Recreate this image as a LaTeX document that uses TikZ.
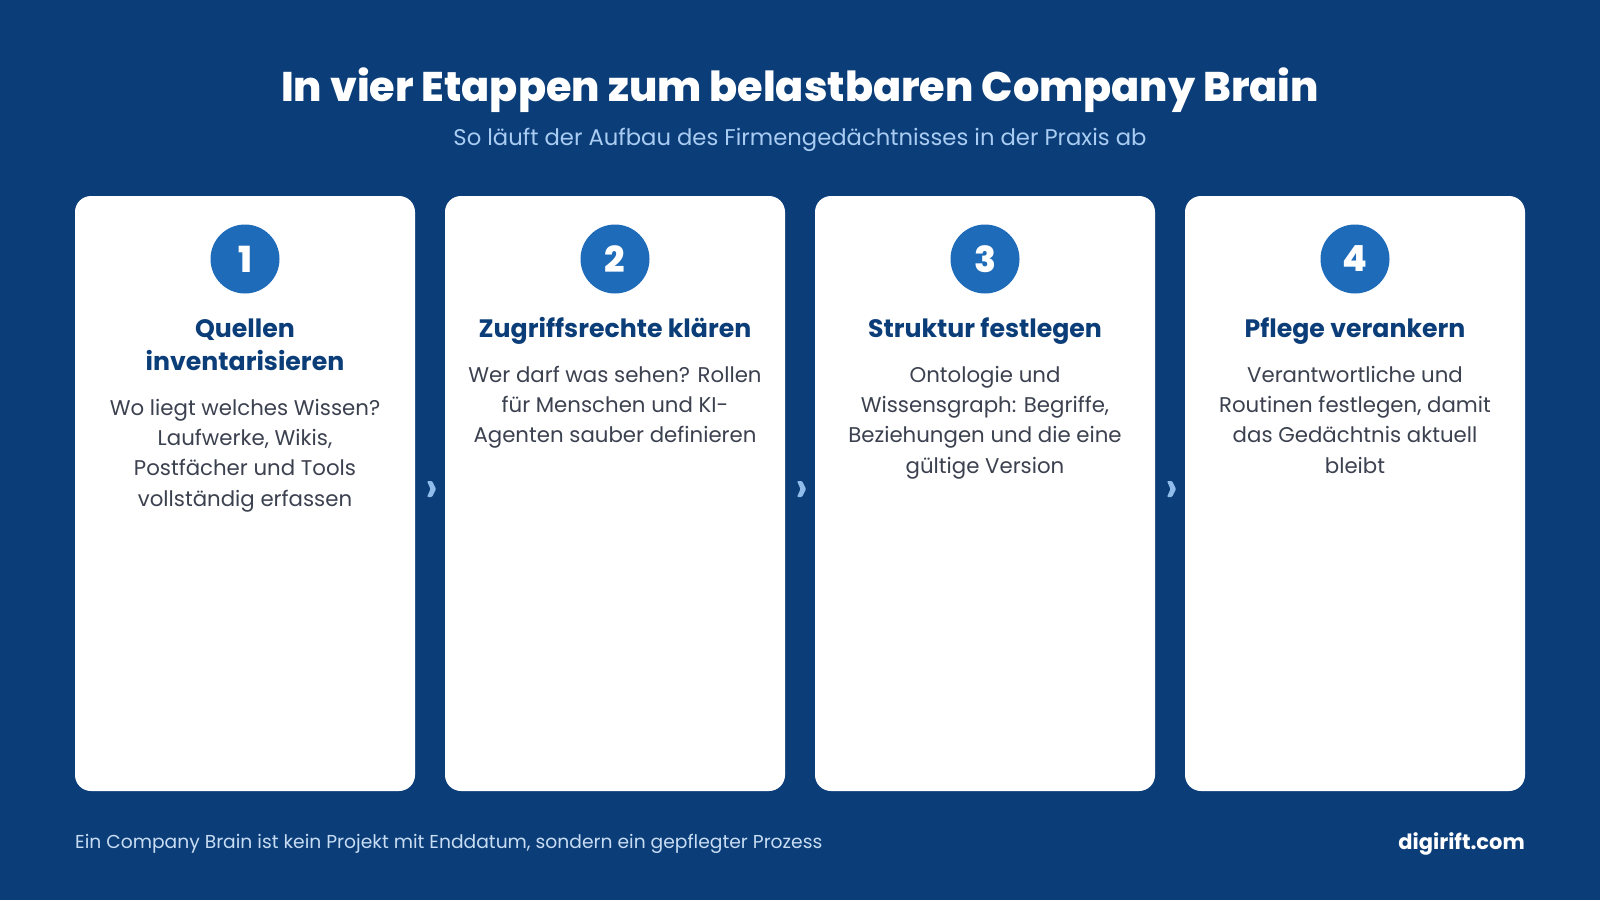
\documentclass[tikz,border=0pt]{standalone}
\usepackage{fontspec}
\setmainfont{Poppins}
\newfontfamily\heavyfont{Poppins ExtraBold}
\usetikzlibrary{calc}

\definecolor{bgblue}{HTML}{0B3D78}
\definecolor{numblue}{HTML}{1E6BB9}
\definecolor{headblue}{HTML}{0B3D78}
\definecolor{bodygray}{HTML}{3C4150}
\definecolor{subblue}{HTML}{A9CCF2}
\definecolor{footblue}{HTML}{C8DDF3}
\definecolor{chevblue}{HTML}{8FBCEB}

\tikzset{
  card/.style={fill=white,rounded corners=16pt,minimum width=340pt,minimum height=595pt,inner sep=0pt},
  numdot/.style={circle,fill=numblue,minimum size=69pt,inner sep=0pt,text=white,font=\heavyfont\fontsize{36}{40}\selectfont},
  % base = baseline of the last line
  stephead/.style={anchor=base,align=center,inner sep=0pt,text=headblue,font=\bfseries\fontsize{25.2}{32.6}\selectfont},
  stepbody/.style={anchor=base,align=center,inner sep=0pt,text=bodygray,font=\fontsize{21.3}{30.3}\selectfont},
  chev/.style={fill=chevblue,rounded corners=1pt}
}

\begin{document}
\begin{tikzpicture}[x=1pt,y=-1pt]
    \fill[bgblue] (0,0) rectangle (1600,900);
    \useasboundingbox (0,0) rectangle (1600,900);

    % title
    \node[text=white,font=\heavyfont\fontsize{41.4}{48}\selectfont] (title) at (800,90) {In vier Etappen zum belastbaren Company Brain};
    \node[text=subblue,font=\fontsize{22.7}{26}\selectfont] (subtitle) at (800,140) {So läuft der Aufbau des Firmengedächtnisses in der Praxis ab};

    % cards
    \node[card] (card1) at (245,493.5) {};
    \node[card] (card2) at (615,493.5) {};
    \node[card] (card3) at (985,493.5) {};
    \node[card] (card4) at (1355,493.5) {};

    \node[numdot] (num1) at (245,259) {1};
    \node[numdot] (num2) at (615,259) {2};
    \node[numdot] (num3) at (985,259) {3};
    \node[numdot] (num4) at (1355,259) {4};

    \node[stephead] (head1) at (245,370) {Quellen\\inventarisieren};
    \node[stephead] (head2) at (615,337) {Zugriffsrechte klären};
    \node[stephead] (head3) at (985,337) {Struktur festlegen};
    \node[stephead] (head4) at (1355,337) {Pflege verankern};

    \node[stepbody] (body1) at (245,506) {Wo liegt welches Wissen?\\Laufwerke, Wikis,\\Postfächer und Tools\\vollständig erfassen};
    \node[stepbody] (body2) at (615,442.6) {Wer darf was sehen? Rollen\\für Menschen und KI-\\Agenten sauber definieren};
    \node[stepbody] (body3) at (985,473) {Ontologie und\\Wissensgraph: Begriffe,\\Beziehungen und die eine\\gültige Version};
    \node[stepbody] (body4) at (1355,473) {Verantwortliche und\\Routinen festlegen, damit\\das Gedächtnis aktuell\\bleibt};

    % chevrons between the cards
    \coordinate (gap12) at ($(card1.east)!.5!(card2.west)+(1.5,-4.5)$);
    \coordinate (gap23) at ($(card2.east)!.5!(card3.west)+(1.5,-4.5)$);
    \coordinate (gap34) at ($(card3.east)!.5!(card4.west)+(1.5,-4.5)$);
    \fill[chev] (gap12) ++(-4.5,-8) -- ++(5,0) -- ++(4,8) -- ++(-4,8) -- ++(-5,0) -- ++(3.5,-8) -- cycle;
    \fill[chev] (gap23) ++(-4.5,-8) -- ++(5,0) -- ++(4,8) -- ++(-4,8) -- ++(-5,0) -- ++(3.5,-8) -- cycle;
    \fill[chev] (gap34) ++(-4.5,-8) -- ++(5,0) -- ++(4,8) -- ++(-4,8) -- ++(-5,0) -- ++(3.5,-8) -- cycle;

    % footer
    \node[anchor=west,inner sep=0pt,text=footblue,font=\fontsize{18.7}{22}\selectfont] (note) at (75,844) {Ein Company Brain ist kein Projekt mit Enddatum, sondern ein gepflegter Prozess};
    \node[anchor=east,inner sep=0pt,text=white,font=\bfseries\fontsize{21}{24}\selectfont] (site) at (1525,844) {digirift.com};
\end{tikzpicture}
\end{document}
